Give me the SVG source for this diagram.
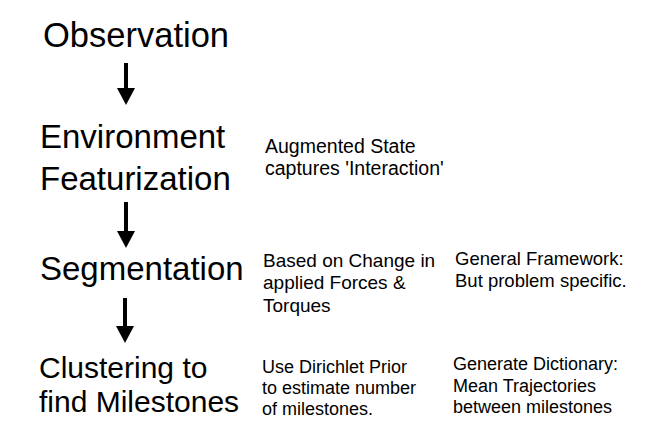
<svg xmlns="http://www.w3.org/2000/svg" width="654" height="434" viewBox="0 0 654 434">
<style>
.title{font-family:"Liberation Sans",Arial,sans-serif;font-size:33px;fill:#000}
.note{font-family:"Liberation Sans",Arial,sans-serif;font-size:18.5px;fill:#000}
.conn{stroke:#000;stroke-width:4;fill:none}
</style>
<defs>
<marker id="arr" markerUnits="userSpaceOnUse" viewBox="0 0 17 18" markerWidth="17" markerHeight="18" refX="1" refY="9" orient="auto">
<path d="M0,0 L17,9 L0,18 Z" fill="#000"/>
</marker>
</defs>
<rect width="654" height="434" fill="#fff"/>
<g id="n-observation"><text class="title" x="43" y="47" style="font-size:34.5px">Observation</text></g>
<g id="n-env"><text class="title" x="40" y="148">Environment</text><text class="title" x="40" y="190">Featurization</text></g>
<g id="n-seg"><text class="title" x="40" y="280">Segmentation</text></g>
<g id="n-clust"><text class="title" x="39" y="378" style="font-size:30px">Clustering to</text><text class="title" x="39" y="412" style="font-size:30px">find Milestones</text></g>
<g id="n-aug"><text class="note" x="265" y="153" style="font-size:19.5px">Augmented State</text><text class="note" x="265" y="175" style="font-size:19.5px">captures 'Interaction'</text></g>
<g id="n-based"><text class="note" x="263" y="267" style="font-size:19px">Based on Change in</text><text class="note" x="263" y="289" style="font-size:19px">applied Forces &amp;</text><text class="note" x="263" y="312" style="font-size:19px">Torques</text></g>
<g id="n-general"><text class="note" x="455" y="265">General Framework:</text><text class="note" x="455" y="287">But problem specific.</text></g>
<g id="n-dirichlet"><text class="note" x="262" y="373" style="font-size:18px">Use Dirichlet Prior</text><text class="note" x="262" y="394" style="font-size:18px">to estimate number</text><text class="note" x="262" y="415" style="font-size:18px">of milestones.</text></g>
<g id="n-dict"><text class="note" x="453" y="370" style="font-size:18px">Generate Dictionary:</text><text class="note" x="453" y="392" style="font-size:18px">Mean Trajectories</text><text class="note" x="453" y="413" style="font-size:18px">between milestones</text></g>
<g id="connectors">
<path class="conn" d="M126,63 V89" marker-end="url(#arr)"/>
<path class="conn" d="M126,202 V232" marker-end="url(#arr)"/>
<path class="conn" d="M125,298 V327" marker-end="url(#arr)"/>
</g>
</svg>
